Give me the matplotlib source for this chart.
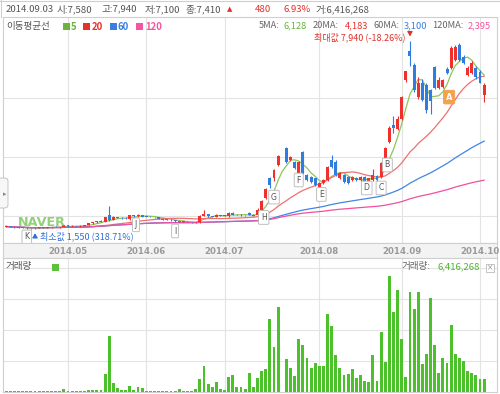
import matplotlib
matplotlib.use('Agg')
import matplotlib.pyplot as plt
import numpy as np
import pandas as pd
from matplotlib.patches import Rectangle, FancyBboxPatch
from matplotlib.lines import Line2D

plt.rcParams['font.family'] = ['Noto Sans CJK KR', 'DejaVu Sans']

# ---------------- data (daily, 2014-04-10 .. 2014-10-02) ----------------
opens = [1640,1645,1620,1615,1600,1595,1590,1580,1590,1610,1605,1615,1625,1620,1630,
         1680,1650,1660,1650,1660,1690,1760,1780,1830,1800,2030,1880,1960,1940,1930,
         1900,2020,1990,2040,1980,1970,1960,1950,1910,1880,1870,1850,1820,1800,1810,
         1790,1780,1780,2010,2060,1990,1980,2030,2000,1990,2100,2040,2030,2040,2100,
         2050,2030,2200,2600,3300,3290,3730,4030,4300,3900,3830,3460,4170,3390,3320,
         3290,2980,3120,3220,3900,3830,3290,3390,3320,3220,3290,3220,3320,3150,3220,
         3360,3320,3970,4500,5100,4950,5290,6600,7580,7120,6030,6500,6440,6270,7050,
         6340,6370,7000,7020,7290,7800,7390,6780,6850,7020,6880,6100]
highs = [1660,1650,1640,1630,1620,1610,1600,1600,1620,1630,1625,1640,1650,1640,1700,
         1690,1680,1670,1680,1700,1770,1800,1840,1850,1970,2330,1990,1980,1960,1950,
         2040,2030,2070,2050,2000,1990,1980,1960,1920,1900,1890,1860,1840,1830,1820,
         1810,1800,2050,2200,2080,2010,2060,2040,2030,2120,2150,2060,2060,2050,2150,
         2060,2270,2540,2950,3330,3600,4070,4030,4330,4050,3880,3880,4200,3430,3350,
         3300,3150,3250,3700,4070,3900,3500,3420,3350,3360,3320,3340,3340,3300,3590,
         3400,3830,4350,5050,5400,5400,6080,6930,7940,7200,6700,6650,6500,6300,7100,
         6700,6650,7050,7750,7800,7850,7450,7100,7250,7100,6950,6500]
lows = [1620,1610,1600,1590,1580,1570,1560,1550,1580,1595,1590,1600,1610,1605,1620,
        1640,1640,1630,1640,1650,1680,1740,1770,1790,1790,1830,1870,1920,1910,1900,
        1880,1970,1980,1960,1950,1950,1940,1900,1870,1860,1840,1810,1790,1790,1780,
        1770,1760,1750,1990,1980,1970,1970,1990,1990,1980,2030,2020,2010,2010,2020,
        2000,2020,2180,2580,2950,3200,3700,4030,3800,3850,3600,3400,3420,3180,3130,
        3000,2950,3080,3200,3640,3350,3250,3120,3100,3200,3200,3190,3130,3130,3180,
        3200,3290,3950,4480,4800,4900,5250,6550,7100,6200,5950,5900,5500,5450,6300,
        6300,6350,6800,7000,7250,7250,7150,6750,6800,6650,6500,5850]
closes = [1645,1620,1615,1600,1595,1590,1580,1590,1610,1605,1615,1625,1620,1630,1680,
          1650,1660,1650,1660,1690,1760,1780,1820,1800,1950,1870,1960,1940,1930,1920,
          2020,1990,2050,1980,1970,1960,1950,1910,1880,1870,1850,1820,1800,1810,1790,
          1780,1790,2010,2080,1990,1980,2030,2000,2010,2100,2040,2030,2040,2020,2030,
          2010,2200,2500,2900,3050,3560,4030,4030,3830,4000,3630,3830,3460,3220,3150,
          3050,3120,3220,3660,3660,3390,3460,3150,3120,3320,3220,3320,3150,3290,3390,
          3220,3800,4300,4980,4990,5290,6030,6930,7410,6270,6510,5930,5600,5900,6340,
          6610,6610,6850,7700,7730,7290,7190,7020,7190,6710,6520,6440]
volumes_m = [0.05,0.04,0.04,0.05,0.04,0.04,0.05,0.06,0.04,0.04,0.04,0.05,0.04,0.05,0.13,
             0.05,0.04,0.04,0.05,0.06,0.08,0.07,0.10,0.10,1.16,3.60,0.56,0.24,0.10,0.10,
             0.34,0.08,0.28,0.24,0.05,0.04,0.04,0.05,0.04,0.04,0.05,0.04,0.17,0.06,0.06,
             0.06,0.15,0.79,1.64,0.47,0.26,0.62,0.17,0.10,0.94,1.05,0.26,0.26,0.19,1.20,
             0.26,0.88,1.32,1.43,4.70,2.84,5.42,0.00,2.07,1.54,1.00,3.39,2.97,2.18,1.54,
             1.81,1.64,1.64,4.99,4.20,2.35,1.49,1.07,1.15,1.43,0.85,1.04,0.68,0.60,2.35,
             0.68,3.82,1.92,7.45,5.10,6.55,3.39,0.94,6.42,5.33,6.44,1.79,2.39,6.06,2.99,
             1.20,2.18,1.86,4.27,2.39,2.13,1.96,1.32,1.22,1.05,0.83,0.79]
month_labels = ['2014.05', '2014.06', '2014.07', '2014.08', '2014.09', '2014.10']
month_index = [15, 34, 53, 76, 96, 115]
ma_windows = [5, 20, 60, 120]
marker_labels = ['A', 'B', 'C', 'D', 'E', 'F', 'G', 'H', 'I', 'J', 'K']
marker_index = [107.5, 92.5, 91, 87.5, 76.5, 71, 65, 62.5, 41, 31.5, 5]
marker_price = [6030, 3730, 2950, 2950, 2730, 3220, 2640, 1950, 1490, 1700, 1290]
max_price = 7940
max_index = 98
min_price = 1550
min_index = 7

# ---------------- styles ----------------
UP = '#f0302c'
DOWN = '#2f7de1'
MA_COL = {5: '#8cc65a', 20: '#f07070', 60: '#3f86e6', 120: '#f24f9f'}
LEG_COL = {5: '#6ab43e', 20: '#e5322d', 60: '#3a7fe0', 120: '#f5569f'}
VOLC = '#4cc12b'
GRID = '#e3e3e3'
FRAME = '#cfcfcf'

W, H = 500, 394
fig = plt.figure(figsize=(W / 100, H / 100), dpi=100)
fig.patch.set_facecolor('white')


def fx(x):
    return x / W


def fy(y):
    return 1 - y / H


# pixel geometry: x_px = X0 + DX * i
X0, DX = 6.2, 4.12
LEFT, RIGHT = 3, 497
xlim = ((LEFT - X0) / DX, (RIGHT - X0) / DX)

PT, PB = 17, 243          # price panel top/bottom (px)
VT, VB = 258, 391.5       # volume panel top/bottom (px)


def p_at(y):
    # price scale: 6000 at y=98, 33.9 won / px
    return 6000 + (98 - y) * 33.9


ax = fig.add_axes([fx(LEFT), fy(PB), fx(RIGHT - LEFT), (PB - PT) / H])
axb = fig.add_axes([fx(LEFT), fy(VT), fx(RIGHT - LEFT), (VT - PB) / H])
axv = fig.add_axes([fx(LEFT), fy(VB), fx(RIGHT - LEFT), (VB - VT) / H])

n = len(closes)
idx = np.arange(n)
o = np.array(opens, float)
h = np.array(highs, float)
l = np.array(lows, float)
c = np.array(closes, float)
v = np.array(volumes_m) * 1e6

for a in (ax, axb, axv):
    a.set_xlim(*xlim)
    a.set_xticks([])
    a.set_yticks([])
    for s in a.spines.values():
        s.set_color(FRAME)
        s.set_linewidth(0.8)

ax.set_ylim(p_at(PB), p_at(PT))
axv.set_ylim(0, (VB - VT) / 15.5 * 1e6)
axb.set_ylim(0, 1)
axb.set_facecolor('#f3f3f3')

# grids
for m in month_index:
    ax.axvline(m, color=GRID, lw=0.8, zorder=0)
    axv.axvline(m, color=GRID, lw=0.8, zorder=0)
for p in (2000, 4000, 6000):
    ax.axhline(p, color=GRID, lw=0.8, zorder=0)
for vv in (2e6, 4e6, 6e6, 8e6):
    axv.axhline(vv, color=GRID, lw=0.8, zorder=0)

# month labels
for m, lab in zip(month_index, month_labels):
    axb.text(m, 0.45, lab, ha='center', va='center', fontsize=6.2,
             fontweight='bold', color='#9a9a9a', family='DejaVu Sans')

# moving averages
cs = pd.Series(c)
for w in ma_windows:
    ma = cs.rolling(w, min_periods=1).mean()
    ax.plot(idx, ma, color=MA_COL[w], lw=0.9, zorder=2)

# candles
up = c >= o
cols = np.where(up, UP, DOWN)
ax.vlines(idx, l, h, colors=cols, lw=0.8, zorder=3)
body_lo = np.minimum(o, c)
body_h = np.maximum(np.abs(c - o), 18)
ax.bar(idx, body_h, bottom=body_lo, width=0.72, color=cols, lw=0, zorder=4)

# volume
axv.bar(idx, v, width=0.7, color=VOLC, lw=0, zorder=3)

# markers (A..K)
for lab, mi, mp in zip(marker_labels, marker_index, marker_price):
    if lab == 'A':
        ax.text(mi, mp, lab, ha='center', va='center', fontsize=6, color='white',
                fontweight='bold', family='DejaVu Sans', zorder=6,
                bbox=dict(boxstyle='round,pad=0.28,rounding_size=0.15',
                          fc='#f5a04a', ec='#f5a04a', lw=0.6))
    else:
        ax.text(mi, mp, lab, ha='center', va='center', fontsize=5.6, color='#555555',
                family='DejaVu Sans', zorder=6,
                bbox=dict(boxstyle='round,pad=0.3,rounding_size=0.15',
                          fc='white', ec='#b5b5b5', lw=0.6))

# max / min annotations (arrows drawn as graphics)
ax.annotate('', xy=(max_index, max_price + 60), xytext=(max_index, p_at(32)),
            arrowprops=dict(arrowstyle='-|>,head_length=0.25,head_width=0.15',
                            color='#e0302a', lw=0.9), zorder=6)
ax.annotate('', xy=(min_index, min_price - 40), xytext=(min_index, p_at(239)),
            arrowprops=dict(arrowstyle='-|>,head_length=0.25,head_width=0.15',
                            color='#2f6fd6', lw=0.9), zorder=6)

# NAVER watermark
fig.text(fx(18), fy(222.5), 'NAVER', ha='left', va='center', fontsize=9.2,
         fontweight='bold', color='#6cc24a', alpha=0.75, family='DejaVu Sans', zorder=5)


# ---------------- header texts ----------------
def t(x, y, s, col='#555555', size=6.9, weight='normal', fam=None, ha='left'):
    kw = {}
    if fam:
        kw['family'] = fam
    fig.text(fx(x), fy(y), s, color=col, fontsize=size, fontweight=weight,
             ha=ha, va='center', **kw)


t(6, 9, '2014.09.03')
t(57, 9, '시:7,580')
t(102, 9, '고:7,940')
t(145, 9, '저:7,100')
t(185, 9, '종:7,410')
t(227, 9.5, '▲', col='#e0302a', size=5, fam='DejaVu Sans')
t(255, 9, '480', col='#e0302a')
t(283, 9, '6.93%', col='#e0302a')
t(315, 9, '거:6,416,268')

t(6, 26.5, '이동평균선')
for xs, w, xl in [(63, 5, 71), (83, 20, 92), (110, 60, 118), (136, 120, 145)]:
    fig.patches.append(Rectangle((fx(xs), fy(30)), 7 / W, 7 / H, transform=fig.transFigure,
                                 fc=LEG_COL[w], ec='none'))
    t(xl, 26.5, str(w), col=LEG_COL[w], weight='bold')

t(259, 26, '5MA:', col='#666666', size=6.7)
t(284, 26, '6,128', col='#6ab43e', size=6.7)
t(313, 26, '20MA:', col='#666666', size=6.7)
t(345, 26, '4,183', col='#e5322d', size=6.7)
t(373, 26, '60MA:', col='#666666', size=6.7)
t(404, 26, '3,100', col='#3a7fe0', size=6.7)
t(432, 26, '120MA:', col='#666666', size=6.7)
t(468, 26, '2,395', col='#f5569f', size=6.7)

t(406, 37, '최대값 7,940 (-18.26%)', col='#e0302a', size=6.5, ha='right')
t(40, 236.5, '최소값 1,550 (318.71%)', col='#2f6fd6', size=6.5)

# volume panel texts
t(6, 267, '거래량')
fig.patches.append(Rectangle((fx(52), fy(270.5)), 7 / W, 7 / H, transform=fig.transFigure,
                             fc='#5cc23c', ec='none'))
t(402, 267, '거래량:', col='#666666')
t(437, 267, '6,416,268', col='#4cb82a')
fig.patches.append(Rectangle((fx(486), fy(272)), 8 / W, 8 / H, transform=fig.transFigure,
                             fc='white', ec='#bbbbbb', lw=0.6))
t(490, 267.5, '×', col='#999999', size=5.5, fam='DejaVu Sans', ha='center')

# header frame line and left tab
fig.add_artist(Line2D([0, 1], [fy(0.5), fy(0.5)], color=FRAME, lw=0.8))
fig.add_artist(Line2D([fx(0.5), fx(0.5)], [fy(0), fy(17)], color=FRAME, lw=0.8))
fig.patches.append(FancyBboxPatch((fx(-3), fy(208)), 11 / W, 30 / H,
                                  boxstyle='round,pad=0,rounding_size=0.008',
                                  transform=fig.transFigure, fc='#f7f7f7', ec='#bdbdbd', lw=0.6))
t(2.5, 194, '▸', col='#888888', size=5, fam='DejaVu Sans')

fig.savefig('out.png', dpi=100)
